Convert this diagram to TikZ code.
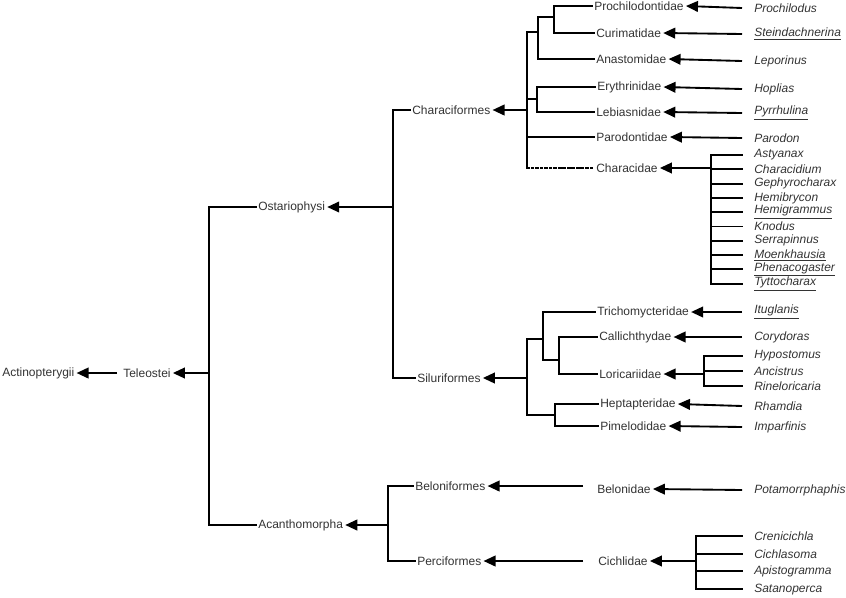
\documentclass[tikz,border=0pt]{standalone}
\usepackage{fontspec}
\setmainfont{Liberation Sans}
\usetikzlibrary{arrows.meta,positioning}
\definecolor{txtgray}{HTML}{333333}
\tikzset{
  taxon/.style={anchor=west, inner sep=1.5pt, text=txtgray, font=\fontsize{9}{10}\selectfont},
  genus/.style={taxon, font=\fontsize{9}{10}\selectfont\itshape},
  branch/.style={line width=1.4pt, line cap=rect},
  ptr/.style={line width=1.4pt, -{Triangle[length=9pt,width=8pt]}}
}
\begin{document}
\begin{tikzpicture}[x=0.75pt, y=-0.75pt]
\useasboundingbox (0,0) rectangle (846,597);

% higher ranks
\node[taxon] (Actin) at (0,373) {Actinopterygii};
\node[taxon] (Tele) at (121,373) {Teleostei};
\node[taxon] (Ostar) at (256,207) {Ostariophysi};
\node[taxon] (Acanth) at (256,525) {Acanthomorpha};
\node[taxon] (Chara) at (410,110) {Characiformes};
\node[taxon] (Silu) at (415,378) {Siluriformes};
\node[taxon] (Belo) at (413,486) {Beloniformes};
\node[taxon] (Perci) at (415,561) {Perciformes};

% families
\node[taxon] (Proch) at (592,6) {Prochilodontidae};
\node[taxon] (Curim) at (594,33) {Curimatidae};
\node[taxon] (Anast) at (594,59) {Anastomidae};
\node[taxon] (Eryth) at (595,87) {Erythrinidae};
\node[taxon] (Lebia) at (594,112) {Lebiasnidae};
\node[taxon] (Parod) at (594,137) {Parodontidae};
\node[taxon] (Chdae) at (594,168) {Characidae};
\node[taxon] (Trich) at (595,312) {Trichomycteridae};
\node[taxon] (Calli) at (597,337) {Callichthydae};
\node[taxon] (Loric) at (597,374) {Loricariidae};
\node[taxon] (Hepta) at (598,404) {Heptapteridae};
\node[taxon] (Pimel) at (598,426) {Pimelodidae};
\node[taxon] (Belon) at (595,489) {Belonidae};
\node[taxon] (Cichl) at (596,561) {Cichlidae};

% genera
\node[genus] (Proc) at (752,8) {Prochilodus};
\node[genus] (Stei) at (752,34) {\underline{Steindachnerina}};
\node[genus] (Lepo) at (752,61) {Leporinus};
\node[genus] (Hopl) at (752,89) {Hoplias};
\node[genus] (Pyrr) at (752,113) {\underline{Pyrrhulina}};
\node[genus] (Paro) at (752,138) {Parodon};
\node[genus] (Itug) at (752,312) {\underline{Ituglanis}};
\node[genus] (Cory) at (752,337) {Corydoras};
\node[genus] (Rham) at (752,406) {Rhamdia};
\node[genus] (Impa) at (752,427) {Imparfinis};
\node[genus] (Pota) at (752,490) {Potamorrphaphis};

% tree of the clades
\coordinate (tel) at (209,373);
\coordinate (ost) at (393,207);
\coordinate (aca) at (388,525);
\coordinate (cha) at (527,110);
\coordinate (sil) at (527,378);
\draw[branch] (Ostar.west) -| (tel) |- (Acanth.west);
\draw[branch] (Chara.west) -| (ost) |- (Silu.west);
\draw[branch] (Belo.west) -| (aca) |- (Perci.west);
\draw[branch] (527,32) -- (527,168);
\draw[branch] (527,32) -- (538,32) -- (538,17) -| (554,6) -- (Proch.west);
\draw[branch] (554,17) |- (Curim.west);
\draw[branch] (538,17) |- (Anast.west);
\draw[branch] (527,99) -- (537,99);
\draw[branch] (Eryth.west) -| (537,99) |- (Lebia.west);
\draw[branch] (cha |- Parod) -- (Parod.west);
\draw[branch, dotted] (cha |- Chdae) -- (Chdae.west);
\draw[branch] (527,339) -- (527,415);
\draw[branch] (527,339) -- (543,339);
\draw[branch] (Trich.west) -| (543,360) -- (559,360);
\draw[branch] (Calli.west) -| (559,360) |- (Loric.west);
\draw[branch] (527,415) -- (555,415);
\draw[branch] (Hepta.west) -| (555,415) |- (Pimel.west);

% pointers
\draw[ptr] (117,373) -- (Actin.east);
\draw[ptr] (tel) -- (Tele.east);
\draw[ptr] (ost) -- (Ostar.east);
\draw[ptr] (aca) -- (Acanth.east);
\draw[ptr] (cha) -- (Chara.east);
\draw[ptr] (sil) -- (Silu.east);
\draw[ptr] (583,486) -- (Belo.east);
\draw[ptr] (583,561) -- (Perci.east);
\foreach \fam/\gen in {Proch/Proc, Curim/Stei, Anast/Lepo, Eryth/Hopl, Lebia/Pyrr,
  Parod/Paro, Trich/Itug, Calli/Cory, Hepta/Rham, Pimel/Impa, Belon/Pota}
  \draw[ptr] (742,0 |- \gen) -- (\fam.east);

% combs of genera
\foreach \g [count=\i from 0] in {Astyanax, Characidium, Gephyrocharax, Hemibrycon,
  \underline{Hemigrammus}, Knodus, Serrapinnus, \underline{Moenkhausia},
  \underline{Phenacogaster}, \underline{Tyttocharax}} {
  \node[genus] (ch\i) at (752,155+14.3*\i) {\g};
  \draw[branch] (711,155+14.3*\i) -- (742,155+14.3*\i);
}
\draw[branch] (711,155) -- (711,283.7);
\draw[ptr] (711,168) -- (Chdae.east);

\foreach \g [count=\i from 0] in {Hypostomus, Ancistrus, Rineloricaria} {
  \node[genus] (lo\i) at (752,356+15*\i) {\g};
  \draw[branch] (704,356+15*\i) -- (742,356+15*\i);
}
\draw[branch] (704,356) -- (704,386);
\draw[ptr] (704,374) -- (Loric.east);

\foreach \g [count=\i from 0] in {Crenicichla, Cichlasoma, Apistogramma, Satanoperca} {
  \node[genus] (ci\i) at (752,536+17.7*\i) {\g};
  \draw[branch] (696,536+17.7*\i) -- (742,536+17.7*\i);
}
\draw[branch] (696,536) -- (696,589);
\draw[ptr] (696,561) -- (Cichl.east);
\end{tikzpicture}
\end{document}
